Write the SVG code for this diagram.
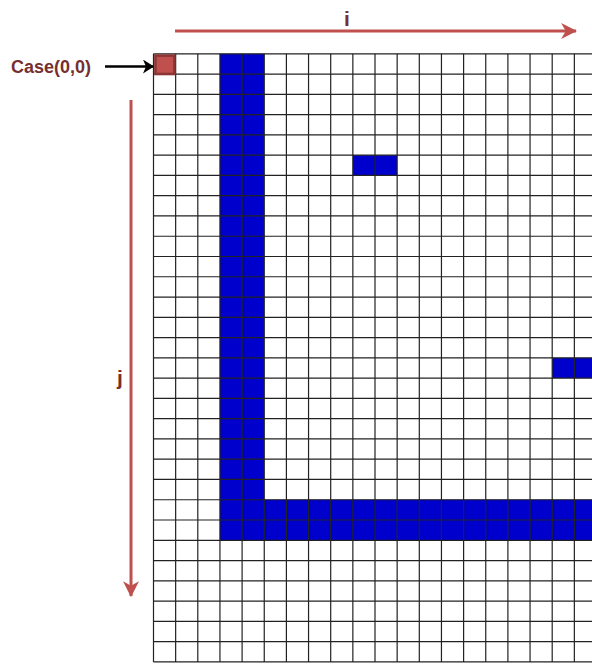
<svg xmlns="http://www.w3.org/2000/svg" width="592" height="664" viewBox="0 0 592 664">
<style>
.grid{stroke:#222;stroke-width:1.2;fill:none}
.blue{fill:#0000CC}
.lbl{font-family:"Liberation Sans",Arial,sans-serif;font-weight:bold;fill:#772F2F}
.red{stroke:#C0504D;stroke-width:3;fill:none}
</style>
<defs>
<marker id="rh" markerUnits="userSpaceOnUse" markerWidth="16" markerHeight="16" viewBox="0 0 14 14" refX="13" refY="7" orient="auto">
<path d="M0,0 L14,7 L0,14 L4,7 z" fill="#C0504D"/>
</marker>
<marker id="bh" markerUnits="userSpaceOnUse" markerWidth="12" markerHeight="14" viewBox="0 0 11 14" refX="10" refY="7" orient="auto">
<path d="M0,0 L11,7 L0,14 L3,7 z" fill="#000"/>
</marker>
</defs>
<rect width="592" height="664" fill="#fff"/>
<g id="blue-cells">
<rect class="blue" x="219.95" y="53.8" width="44.3" height="486.5"/>
<rect class="blue" x="219.95" y="499.7" width="372.05" height="40.6"/>
<rect class="blue" x="352.85" y="155.15" width="44.3" height="20.27"/>
<rect class="blue" x="552.2" y="357.85" width="39.8" height="20.27"/>
</g>
<g id="grid">
<path class="grid" d="M153.5,53.8V662 M175.65,53.8V662 M197.8,53.8V662 M219.95,53.8V662 M242.1,53.8V662 M264.25,53.8V662 M286.4,53.8V662 M308.55,53.8V662 M330.7,53.8V662 M352.85,53.8V662 M375,53.8V662 M397.15,53.8V662 M419.3,53.8V662 M441.45,53.8V662 M463.6,53.8V662 M485.75,53.8V662 M507.9,53.8V662 M530.05,53.8V662 M552.2,53.8V662 M574.35,53.8V662"/>
<path class="grid" d="M153.5,53.8H592 M153.5,74.07H592 M153.5,94.34H592 M153.5,114.61H592 M153.5,134.88H592 M153.5,155.15H592 M153.5,175.42H592 M153.5,195.69H592 M153.5,215.96H592 M153.5,236.23H592 M153.5,256.5H592 M153.5,276.77H592 M153.5,297.04H592 M153.5,317.31H592 M153.5,337.58H592 M153.5,357.85H592 M153.5,378.12H592 M153.5,398.39H592 M153.5,418.66H592 M153.5,438.93H592 M153.5,459.2H592 M153.5,479.47H592 M153.5,499.74H592 M153.5,520.01H592 M153.5,540.28H592 M153.5,560.55H592 M153.5,580.82H592 M153.5,601.09H592 M153.5,621.36H592 M153.5,641.63H592 M153.5,661.9H592"/>
</g>
<g id="case00">
<rect x="155.4" y="55.6" width="19" height="18.4" fill="#C0504D" stroke="#8C3534" stroke-width="2.6"/>
<text class="lbl" x="11" y="73" font-size="18">Case(0,0)</text>
</g>
<g id="label-i"><text class="lbl" x="347" y="26" font-size="21" text-anchor="middle">i</text></g>
<g id="label-j"><text class="lbl" x="120" y="385" font-size="21" text-anchor="middle">j</text></g>
<g id="connectors">
<line class="red" x1="175" y1="31" x2="576" y2="31" marker-end="url(#rh)"/>
<line class="red" x1="131" y1="100" x2="131" y2="596" marker-end="url(#rh)"/>
<line x1="105" y1="66.5" x2="153" y2="66.5" stroke="#000" stroke-width="2.5" marker-end="url(#bh)"/>
</g>
</svg>
